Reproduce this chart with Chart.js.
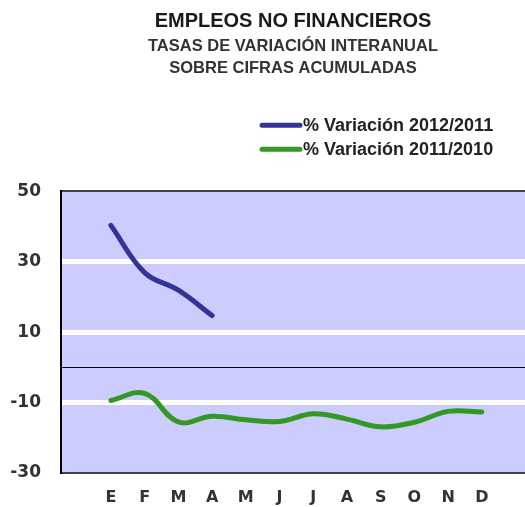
<!DOCTYPE html>
<html>
<head>
<meta charset="utf-8">
<script src="https://cdn.jsdelivr.net/npm/chart.js@4"></script>
<style>
  html, body { margin: 0; padding: 0; background: #fff; }
  #wrap { width: 525px; height: 507px; }
</style>
</head>
<body>
<div id="wrap"><canvas id="grafico"></canvas></div>
<script>
// Datos del gráfico
const meses = ['E', 'F', 'M', 'A', 'M', 'J', 'J', 'A', 'S', 'O', 'N', 'D'];
const variacion2012 = [40.3, 26.9, 21.9, 14.7];
const variacion2011 = [-9.4, -7.4, -15.5, -13.9, -14.9, -15.4, -13.2, -14.7, -16.9, -15.6, -12.5, -12.7];
const ticksY = [-30, -10, 0, 10, 30, 50];

const etiqueta2012 = '% Variación 2012/2011';
const etiqueta2011 = '% Variación 2011/2010';

// Fondo lila del área de trazado
const fondoPlugin = {
    id: 'fondo',
    beforeDraw(chart) {
        const { ctx, chartArea: a } = chart;
        ctx.save();
        ctx.fillStyle = '#ccccff';
        ctx.fillRect(a.left, a.top, a.right - a.left, a.bottom - a.top);
        ctx.restore();
    }
};

// Leyenda apilada, dibujada a partir de los datasets
const leyendaPlugin = {
    id: 'leyendaApilada',
    afterDraw(chart) {
        const { ctx, chartArea: a } = chart;
        ctx.save();
        ctx.font = 'bold 18px "Liberation Sans", Arial, sans-serif';
        ctx.textBaseline = 'middle';
        chart.data.datasets.forEach((ds, i) => {
            const y = a.top - 66 + i * 24;
            const x0 = a.left + 201;
            ctx.strokeStyle = ds.borderColor;
            ctx.lineWidth = 5;
            ctx.lineCap = 'round';
            ctx.beginPath();
            ctx.moveTo(x0, y);
            ctx.lineTo(x0 + 38, y);
            ctx.stroke();
            ctx.fillStyle = '#222';
            ctx.fillText(ds.label, x0 + 41, y + 1);
        });
        ctx.restore();
    }
};

const aPuntos = arr => arr.map((v, i) => ({ x: i + 1, y: v }));

const config = {
    type: 'line',
    data: {
        datasets: [{
            label: etiqueta2012,
            data: aPuntos(variacion2012),
            borderColor: '#333399',
            borderWidth: 5,
            borderCapStyle: 'round',
            pointRadius: 0,
            tension: 0.4
        }, {
            label: etiqueta2011,
            data: aPuntos(variacion2011),
            borderColor: '#339922',
            borderWidth: 5,
            borderCapStyle: 'round',
            pointRadius: 0,
            tension: 0.4
        }]
    },
    options: {
        responsive: false,
        animation: false,
        layout: { padding: { left: 0, right: 0, top: 0, bottom: 0 } },
        plugins: {
            legend: { display: false },
            tooltip: { enabled: false },
            title: {
                display: true,
                text: 'EMPLEOS NO FINANCIEROS',
                fullSize: false,
                color: '#1a1a1a',
                font: { family: '"Liberation Sans", Arial, sans-serif', size: 20, weight: 'bold', lineHeight: 1.1 },
                padding: { top: 10, bottom: 2 }
            },
            subtitle: {
                display: true,
                text: ['TASAS DE VARIACIÓN INTERANUAL', 'SOBRE CIFRAS ACUMULADAS'],
                fullSize: false,
                color: '#333',
                font: { family: '"Liberation Sans", Arial, sans-serif', size: 16.5, weight: 'bold', lineHeight: 1.34 },
                padding: { top: 1, bottom: 112 }
            }
        },
        scales: {
            x: {
                type: 'linear',
                min: -0.48,
                max: 13.28,
                afterBuildTicks(scale) {
                    scale.ticks = meses.map((m, i) => ({ value: i + 1 }));
                },
                afterFit(scale) { scale.height = 34; },
                ticks: {
                    autoSkip: false,
                    maxRotation: 0,
                    padding: 15,
                    color: '#333',
                    font: { family: '"DejaVu Sans", sans-serif', size: 16, weight: 'bold' },
                    callback: v => meses[Math.round(v) - 1] || ''
                },
                grid: { display: false, drawTicks: false },
                border: { display: true, color: '#444', width: 2 }
            },
            y: {
                min: -30,
                max: 50,
                afterBuildTicks(scale) {
                    scale.ticks = ticksY.map(v => ({ value: v }));
                },
                afterFit(scale) { scale.width = 61; },
                ticks: {
                    padding: 20,
                    color: '#333',
                    font: { family: '"DejaVu Sans", sans-serif', size: 17, weight: 'bold' },
                    callback: v => (v === 0 ? '' : v)
                },
                grid: {
                    drawTicks: false,
                    color: ctx => {
                        const v = ctx.tick.value;
                        if (v === 0) return '#000';
                        if (v === 50 || v === -30) return '#444';
                        return '#ffffff';
                    },
                    lineWidth: ctx => {
                        const v = ctx.tick.value;
                        if (v === 0) return 1;
                        if (v === 50 || v === -30) return 2;
                        return 5;
                    }
                },
                border: { display: true, color: '#000', width: 2 }
            }
        }
    },
    plugins: [fondoPlugin, leyendaPlugin]
};

const canvas = document.getElementById('grafico');
canvas.width = 525;
canvas.height = 507;
const grafico = new Chart(canvas, config);
</script>
</body>
</html>
